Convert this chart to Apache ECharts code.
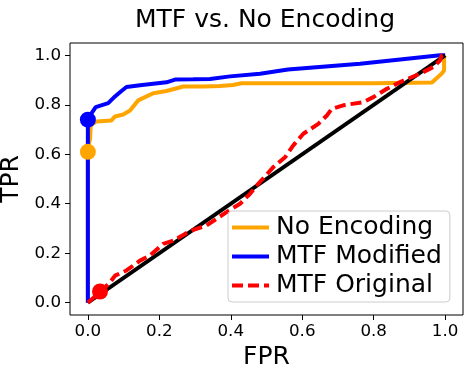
<!DOCTYPE html>
<html>
<head>
<meta charset="utf-8">
<script src="https://cdn.jsdelivr.net/npm/echarts@6/dist/echarts.min.js"></script>
<style>html,body{margin:0;padding:0;background:#fff}#c{width:468px;height:375px}</style>
</head>
<body>
<div id="c"></div>
<script>
const titleText = "MTF vs. No Encoding";
const xName = "FPR";
const yName = "TPR";
const tickValues = [0, 0.2, 0.4, 0.6, 0.8, 1.0];

const noEncName = "No Encoding";
const noEncX = [0, 0, 0.006, 0.008, 0.024, 0.066, 0.076, 0.099, 0.118, 0.141, 0.16, 0.183, 0.22, 0.244, 0.267, 0.323, 0.37, 0.406, 0.43, 0.6, 0.8, 0.963, 0.99, 0.997, 0.997, 1.0];
const noEncY = [0, 0.63, 0.66, 0.717, 0.733, 0.737, 0.753, 0.761, 0.777, 0.818, 0.831, 0.847, 0.856, 0.865, 0.874, 0.874, 0.876, 0.88, 0.887, 0.887, 0.887, 0.89, 0.926, 0.939, 0.993, 1.0];

const mtfModName = "MTF Modified";
const mtfModX = [0, 0, 0.006, 0.022, 0.057, 0.076, 0.094, 0.108, 0.146, 0.183, 0.22, 0.244, 0.295, 0.342, 0.398, 0.482, 0.56, 0.762, 0.986, 1.0];
const mtfModY = [0, 0.74, 0.757, 0.791, 0.807, 0.834, 0.856, 0.872, 0.879, 0.885, 0.891, 0.902, 0.903, 0.904, 0.915, 0.926, 0.943, 0.966, 1.0, 1.0];

const mtfOrigName = "MTF Original";
const mtfOrigX = [0, 0.034, 0.062, 0.076, 0.108, 0.146, 0.174, 0.211, 0.239, 0.272, 0.295, 0.332, 0.36, 0.388, 0.426, 0.454, 0.473, 0.519, 0.552, 0.575, 0.603, 0.645, 0.669, 0.683, 0.715, 0.771, 0.799, 0.837, 0.874, 0.93, 0.967, 0.986, 0.99, 1.0];
const mtfOrigY = [0, 0.042, 0.082, 0.109, 0.13, 0.17, 0.191, 0.238, 0.251, 0.278, 0.294, 0.312, 0.339, 0.366, 0.4, 0.44, 0.474, 0.548, 0.588, 0.636, 0.683, 0.723, 0.757, 0.784, 0.798, 0.811, 0.831, 0.865, 0.892, 0.926, 0.953, 0.98, 1.0, 1.0];

const diagX = [0, 1];
const diagY = [0, 1];

// operating points (markers)
const noEncPoint = [0, 0.61];
const mtfModPoint = [0, 0.74];
const mtfOrigPoint = [0.034, 0.045];

const FONT = "DejaVu Sans";
const zip = (xs, ys) => xs.map((x, i) => [x, ys[i]]);

const solidIcon = 'path://M0,0h37v4h-37z';
const dashIcon = 'path://M0,0h11v4h-11z M16,0h11v4h-11z M32,0h5v4h-5z';

const chart = echarts.init(document.getElementById('c'), null, {renderer: 'canvas'});
const axisCommon = {
  type: 'value', min: -0.05, max: 1.05,
  axisLine: {show: false, onZero: false},
  splitLine: {show: false},
  axisTick: {show: true, inside: false, length: 5, customValues: tickValues, lineStyle: {color: '#000', width: 1}},
  axisLabel: {customValues: tickValues, color: '#000', fontSize: 16.7, fontFamily: FONT,
    formatter: v => Number(v).toFixed(1)},
  nameLocation: 'middle',
  nameTextStyle: {color: '#000', fontSize: 25, fontFamily: FONT}
};
chart.setOption({
  animation: false,
  backgroundColor: '#fff',
  title: {text: titleText, left: 130, top: 3,
    textStyle: {fontSize: 25, fontWeight: 'normal', color: '#000', fontFamily: FONT}},
  grid: {left: 70, right: 5, top: 43, bottom: 60, containLabel: false, outerBoundsMode: 'none',
    show: true, borderColor: '#000', borderWidth: 1, backgroundColor: 'transparent'},
  xAxis: Object.assign({}, axisCommon, {name: xName, nameGap: 23,
    axisLabel: Object.assign({}, axisCommon.axisLabel, {margin: 8})}),
  yAxis: Object.assign({}, axisCommon, {name: yName, nameGap: 32,
    axisLabel: Object.assign({}, axisCommon.axisLabel, {margin: 9})}),
  legend: {
    data: [
      {name: noEncName, icon: solidIcon},
      {name: mtfModName, icon: solidIcon},
      {name: mtfOrigName, icon: dashIcon}
    ],
    orient: 'vertical', left: 228, top: 211,
    itemWidth: 37, itemHeight: 4, itemGap: 4,
    padding: [4, 8, 4, 4],
    borderColor: '#ccc', borderWidth: 1, borderRadius: 4,
    backgroundColor: 'rgba(255,255,255,0.8)',
    textStyle: {fontSize: 25, lineHeight: 25, color: '#000', fontFamily: FONT, padding: [0, 0, 0, 2]}
  },
  series: [
    {name: noEncName, type: 'line', data: zip(noEncX, noEncY), symbol: 'none', showSymbol: false,
      lineStyle: {color: '#FFA500', width: 4}, itemStyle: {color: '#FFA500'}},
    {name: mtfModName, type: 'line', data: zip(mtfModX, mtfModY), symbol: 'none', showSymbol: false,
      lineStyle: {color: '#0000FF', width: 4}, itemStyle: {color: '#0000FF'}},
    {name: 'diag', type: 'line', data: zip(diagX, diagY), symbol: 'none', showSymbol: false,
      lineStyle: {color: '#000', width: 3.8}},
    {name: mtfOrigName, type: 'line', data: zip(mtfOrigX, mtfOrigY), symbol: 'none', showSymbol: false,
      lineStyle: {color: '#FF0000', width: 4, type: [11, 5]}, itemStyle: {color: '#FF0000'}},
    {name: 'pt1', type: 'scatter', data: [noEncPoint], symbolSize: 16, itemStyle: {color: '#FFA500', opacity: 1}, z: 5},
    {name: 'pt2', type: 'scatter', data: [mtfModPoint], symbolSize: 16, itemStyle: {color: '#0000FF', opacity: 1}, z: 5},
    {name: 'pt3', type: 'scatter', data: [mtfOrigPoint], symbolSize: 16, itemStyle: {color: '#FF0000', opacity: 1}, z: 5}
  ]
});
</script>
</body>
</html>
